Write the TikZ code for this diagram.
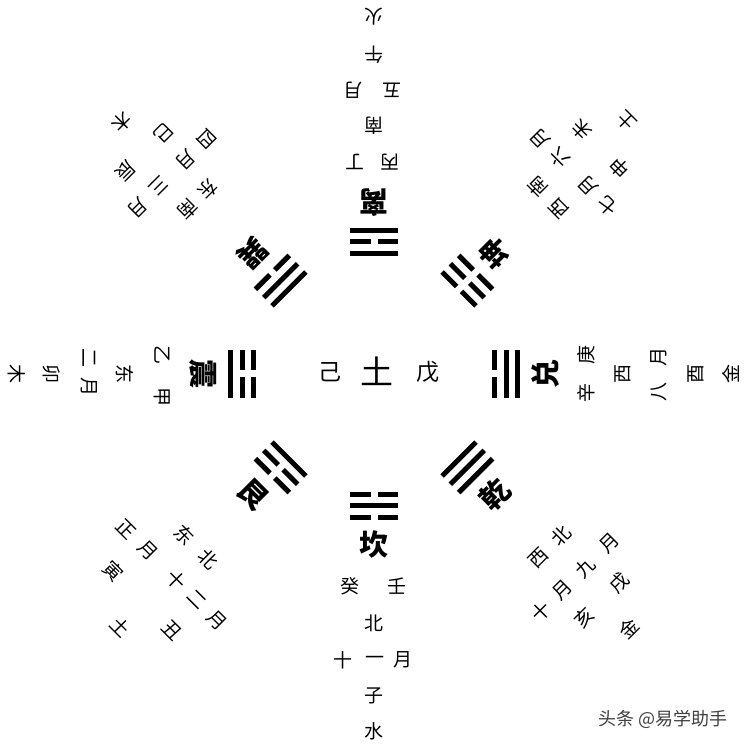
\documentclass[tikz,border=0pt]{standalone}
\usepackage{fontspec}
\newfontfamily\cjk{Noto Sans CJK SC}

% trigram: top line (inner) / middle / bottom line (outer)
\newcommand{\gua}[3]{%
  \pic[transform shape] at (0,-120.3) {#1};
  \pic[transform shape] at (0,-132) {#2};
  \pic[transform shape] at (0,-143.7) {#3};}

\tikzset{
  zi/.style={font=\cjk\fontsize{19}{19}\selectfont, inner sep=0pt, transform shape},
  guaming/.style={font=\cjk\bfseries\fontsize{29}{29}\selectfont, inner sep=0pt, transform shape},
  yang/.pic={\fill (-24,-2.5) rectangle (24,2.5);},
  yin/.pic={\fill (-24,-2.5) rectangle (-3.5,2.5); \fill (3.5,-2.5) rectangle (24,2.5);}
}

\begin{document}
\begin{tikzpicture}[x=1pt, y=1pt]
\useasboundingbox (0,0) rectangle (748,748);

% centre
\node[font=\cjk\fontsize{23}{23}\selectfont, inner sep=0pt] (ji) at (330,376) {己};
\node[font=\cjk\fontsize{33}{33}\selectfont, inner sep=0pt] (tu) at (377,377) {土};
\node[font=\cjk\fontsize{23}{23}\selectfont, inner sep=0pt] (wu) at (428,376) {戊};

% kan (bottom)
\begin{scope}[shift={(374,374)}, rotate=0]
\gua{yin}{yang}{yin}
\node[guaming] (kan) at (0,-171) {坎};
\foreach \x/\c [count=\i] in {-24/癸, 23/壬}
\node[zi] (kan2-\i) at (\x,-212) {\c};
\node[zi] (kan3) at (0,-249) {北};
\foreach \x/\c [count=\i] in {-31/十, 1/一, 29/月}
\node[zi] (kan4-\i) at (\x,-286) {\c};
\node[zi] (kan5) at (0,-322) {子};
\node[zi] (kan6) at (0,-357) {水};
\end{scope}

% zhen (left)
\begin{scope}[shift={(374,374)}, rotate=-90]
\gua{yin}{yin}{yang}
\node[guaming] (zhen) at (0,-171) {震};
\foreach \x/\c [count=\i] in {-19/乙, 23/甲}
\node[zi] (zhen2-\i) at (\x,-212) {\c};
\node[zi] (zhen3) at (0,-249) {东};
\foreach \x/\c [count=\i] in {-16/二, 13/月}
\node[zi] (zhen4-\i) at (\x,-285) {\c};
\node[zi] (zhen5) at (0,-322) {卯};
\node[zi] (zhen6) at (0,-357) {木};
\end{scope}

% dui (right)
\begin{scope}[shift={(374,374)}, rotate=90]
\gua{yin}{yang}{yang}
\node[guaming] (dui) at (0,-171) {兑};
\foreach \x/\c [count=\i] in {-19/辛, 19/庚}
\node[zi] (dui2-\i) at (\x,-212) {\c};
\node[zi] (dui3) at (0,-249) {西};
\foreach \x/\c [count=\i] in {-18/八, 17/月}
\node[zi] (dui4-\i) at (\x,-285) {\c};
\node[zi] (dui5) at (0,-322) {酉};
\node[zi] (dui6) at (0,-357) {金};
\end{scope}

% li (top)
\begin{scope}[shift={(374,374)}, rotate=180]
\gua{yang}{yin}{yang}
\node[guaming] (li) at (0,-171) {离};
\foreach \x/\c [count=\i] in {-16/丙, 19/丁}
\node[zi] (li2-\i) at (\x,-212) {\c};
\node[zi] (li3) at (0,-248) {南};
\foreach \x/\c [count=\i] in {-18/五, 21/月}
\node[zi] (li4-\i) at (\x,-284) {\c};
\node[zi] (li5) at (0,-319) {午};
\node[zi] (li6) at (0,-357) {火};
\end{scope}

% xun (top left)
\begin{scope}[shift={(374,374)}, rotate=-135]
\gua{yang}{yang}{yin}
\node[guaming] (xun) at (0,-171) {巽};
\foreach \x/\c [count=\i] in {-13/东, 15/南}
\node[zi] (xun3-\i) at (\x,-248) {\c};
\foreach \x/\c [count=\i] in {-48/四, -18/月, 19/三, 50/月}
\node[zi] (xun4-\i) at (\x,-285) {\c};
\foreach \x/\c [count=\i] in {-22/巳, 32/辰}
\node[zi] (xun5-\i) at (\x,-319) {\c};
\node[zi] (xun6) at (0,-356) {木};
\end{scope}

% kun (top right)
\begin{scope}[shift={(374,374)}, rotate=135]
\gua{yin}{yin}{yin}
\node[guaming] (kun) at (0,-171) {坤};
\foreach \x/\c [count=\i] in {-14/西, 16/南}
\node[zi] (kun3-\i) at (\x,-248) {\c};
\foreach \x/\c [count=\i] in {-46/七, -18/月, 21/六, 49/月}
\node[zi] (kun4-\i) at (\x,-284) {\c};
\foreach \x/\c [count=\i] in {-28/申, 26/未}
\node[zi] (kun5-\i) at (\x,-319) {\c};
\node[zi] (kun6) at (0,-357) {土};
\end{scope}

% gen (bottom left)
\begin{scope}[shift={(374,374)}, rotate=-45]
\gua{yang}{yin}{yin}
\node[guaming] (gen) at (0,-171) {艮};
\foreach \x/\c [count=\i] in {-20/东, 14/北}
\node[zi] (gen3-\i) at (\x,-248) {\c};
\foreach \x/\c [count=\i] in {-65/正, -35/月, 6/十, 34/二, 63/月}
\node[zi] (gen4-\i) at (\x,-285) {\c};
\foreach \x/\c [count=\i] in {-45/寅, 38/丑}
\node[zi] (gen5-\i) at (\x,-324) {\c};
\node[zi] (gen6) at (0,-358) {土};
\end{scope}

% qian (bottom right)
\begin{scope}[shift={(374,374)}, rotate=45]
\gua{yang}{yang}{yang}
\node[guaming] (qian) at (0,-171) {乾};
\foreach \x/\c [count=\i] in {-14/西, 18/北}
\node[zi] (qian3-\i) at (\x,-247) {\c};
\foreach \x/\c [count=\i] in {-50/十, -19/月, 12/九, 47/月}
\node[zi] (qian4-\i) at (\x,-286) {\c};
\foreach \x/\c [count=\i] in {-24/亥, 26/戌}
\node[zi] (qian5-\i) at (\x,-321) {\c};
\node[zi] (qian6) at (0,-360) {金};
\end{scope}

% watermark
\node[font=\cjk\fontsize{18}{18}\selectfont, text=black!75, inner sep=0pt] (shuiyin) at (663,29) {头条 @易学助手};

\end{tikzpicture}
\end{document}
